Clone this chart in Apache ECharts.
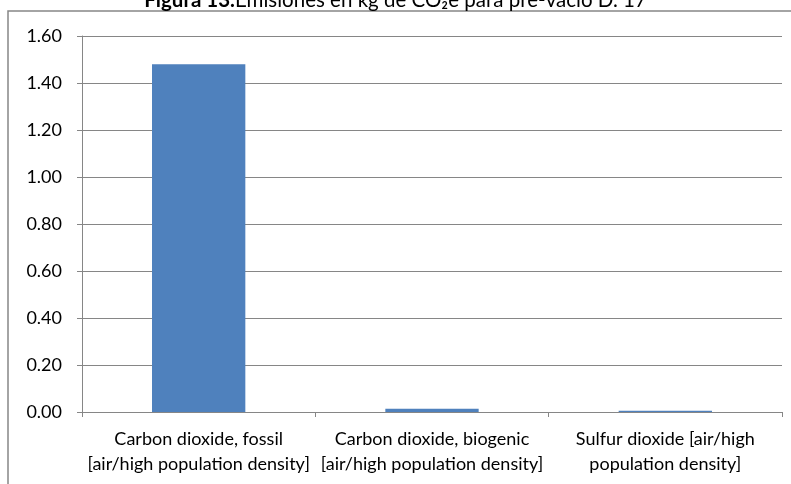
<!DOCTYPE html>
<html><head><meta charset="utf-8">
<script src="https://cdn.jsdelivr.net/npm/echarts@6/dist/echarts.min.js"></script>
<style>html,body{margin:0;padding:0;background:#fff}#c{width:791px;height:484px}</style>
</head><body><div id="c"></div>
<script>
const categories = [
  "Carbon dioxide, fossil\n[air/high population density]",
  "Carbon dioxide, biogenic\n[air/high population density]",
  "Sulfur dioxide [air/high\npopulation density]"
];
const values = [1.48, 0.014, 0.005];
const yTicks = { min: 0, max: 1.6, interval: 0.2 };
const titleBold = "Figura 13.";
const titleRest = "Emisiones en kg de CO₂e para pre-vacío D. 17";

const FONT = "Lato, 'Noto Sans', sans-serif";
const chart = echarts.init(document.getElementById('c'), null, {renderer: 'canvas'});
chart.setOption({
  animation: false,
  backgroundColor: '#fff',
  title: {
    text: '{b|' + titleBold + '}{n|' + titleRest + '}',
    left: 'center', top: -10, padding: 0,
    textStyle: { fontWeight: 'normal', rich: {
      b: { fontFamily: FONT, fontSize: 20.5, fontWeight: 'bold', color: '#000' },
      n: { fontFamily: FONT, fontSize: 20.5, fontWeight: 'normal', color: '#000' }
    } }
  },
  graphic: [{
    type: 'rect', shape: { x: 8, y: 11, width: 800, height: 500 },
    style: { fill: 'none', stroke: '#868686', lineWidth: 1.5 }, z: -1
  }],
  grid: { left: 82, right: 9, top: 36, bottom: 72 },
  xAxis: {
    type: 'category', data: categories,
    axisLine: { lineStyle: { color: '#868686', width: 1 } },
    axisTick: { show: true, length: 5, alignWithLabel: false, lineStyle: { color: '#868686' } },
    axisLabel: { fontFamily: FONT, fontSize: 18, color: '#000', lineHeight: 25, margin: 15, interval: 0 }
  },
  yAxis: {
    type: 'value', min: yTicks.min, max: yTicks.max, interval: yTicks.interval,
    axisLine: { show: true, lineStyle: { color: '#868686', width: 1 } },
    axisTick: { show: true, length: 5, lineStyle: { color: '#868686' } },
    splitLine: { lineStyle: { color: '#868686', width: 1 } },
    axisLabel: { fontFamily: FONT, fontSize: 18, color: '#000', margin: 20,
      formatter: v => v.toFixed(2) }
  },
  series: [{
    type: 'bar', data: values, barWidth: '40%',
    itemStyle: { color: '#4F81BD' }
  }]
});
</script></body></html>
